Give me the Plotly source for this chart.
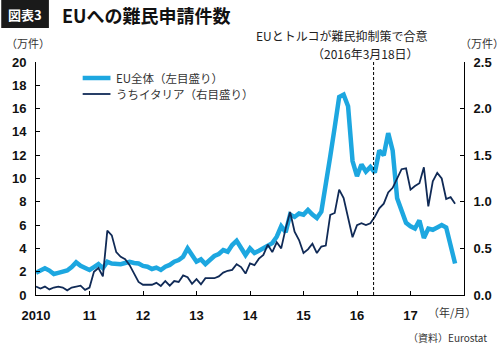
import plotly.graph_objects as go

# ---------------- data (万件, monthly from 2010-01) ----------------
start_year = 2010
eu_total = [
    1.9, 2.1, 2.3, 2.1, 1.8, 1.9, 2.0, 2.1, 2.4, 2.8, 2.5, 2.3,          # 2010
    2.15, 2.4, 2.65, 2.3, 2.85, 2.7, 2.65, 2.65, 2.75, 2.85, 2.75, 2.7,  # 2011
    2.5, 2.43, 2.23, 2.35, 2.15, 2.43, 2.58, 2.86, 3.0, 3.29, 4.0, 3.43, # 2012
    2.86, 3.06, 2.66, 3.0, 3.35, 3.52, 3.86, 3.72, 4.29, 4.66, 4.0, 3.43,# 2013
    4.0, 3.6, 3.8, 4.0, 4.3, 4.45, 5.0, 5.9, 5.4, 6.9, 6.7, 7.0,         # 2014
    6.9, 7.3, 6.9, 6.6, 7.15, 9.3, 11.9, 14.4, 17.0, 17.2, 16.2, 11.5,   # 2015
    10.2, 11.2, 10.6, 11.0, 10.5, 12.4, 12.0, 13.9, 12.4, 8.3, 7.3, 6.2, # 2016
    5.9, 5.7, 6.4, 4.9, 5.7, 5.6, 5.8, 6.0, 5.8, 4.4, 2.7,               # 2017
]
italy = [
    0.09, 0.07, 0.09, 0.06, 0.08, 0.09, 0.08, 0.05, 0.08, 0.09, 0.10, 0.055,
    0.08, 0.25, 0.29, 0.20, 0.69, 0.64, 0.46, 0.41, 0.385, 0.32, 0.23, 0.14,
    0.11, 0.107, 0.11, 0.13, 0.097, 0.15, 0.10, 0.15, 0.14, 0.21, 0.19, 0.12,
    0.17, 0.115, 0.18, 0.18, 0.18, 0.20, 0.24, 0.26, 0.27, 0.33, 0.30, 0.23,
    0.34, 0.32, 0.39, 0.43, 0.54, 0.46, 0.565, 0.50, 0.715, 0.89, 0.68, 0.59,
    0.45, 0.49, 0.55, 0.45, 0.52, 0.53, 0.86, 0.88, 1.13, 1.04, 0.82, 0.62,
    0.75, 0.77, 0.75, 0.77, 0.84, 0.93, 0.98, 1.10, 1.15, 1.25, 1.35, 1.36,
    1.13, 1.17, 1.20, 1.37, 0.95, 1.22, 1.31, 1.25, 1.03, 1.05, 0.98,
]
series_names = ["EU全体（左目盛り）", "うちイタリア（右目盛り）"]
year_ticks = [2010, 2011, 2012, 2013, 2014, 2015, 2016, 2017]
year_labels = ["2010", "11", "12", "13", "14", "15", "16", "17"]
left_ticks = [0, 2, 4, 6, 8, 10, 12, 14, 16, 18, 20]
right_ticks = [0.0, 0.5, 1.0, 1.5, 2.0, 2.5]
event_x = 2016.31   # EU–Turkey statement (2016-03-18), as drawn

x_eu = [start_year + i / 12 for i in range(len(eu_total))]
x_it = [start_year + i / 12 for i in range(len(italy))]

EU_COLOR = "#1DA7E0"
IT_COLOR = "#102A56"
NUM_FONT = "Liberation Sans, Arial, sans-serif"
JP_FONT = "Noto Sans CJK JP, sans-serif"

W, H = 504, 352
L, R, T, B = 35, 466, 62, 295


def px(xp):
    return (xp - L) / (R - L)


def py(yp):
    return (B - yp) / (B - T)


fig = go.Figure()
fig.add_trace(go.Scatter(x=x_eu, y=eu_total, mode="lines", name=series_names[0],
                         line=dict(color=EU_COLOR, width=4.5), yaxis="y", showlegend=False))
fig.add_trace(go.Scatter(x=x_it, y=italy, mode="lines", name=series_names[1],
                         line=dict(color=IT_COLOR, width=1.8), yaxis="y2", showlegend=False))

LEG_Y = [78, 94]

shapes = [
    dict(type="line", xref="x", yref="paper", x0=event_x, x1=event_x, y0=0, y1=1,
         line=dict(color="#000", width=1, dash="3px,2px")),
    dict(type="rect", xref="paper", yref="paper", x0=px(0), x1=px(48), y0=py(28), y1=py(0),
         fillcolor="#1a1a1a", line=dict(width=0), layer="above"),
    dict(type="line", xref="paper", yref="paper", x0=px(82), x1=px(110), y0=py(LEG_Y[0]),
         y1=py(LEG_Y[0]), line=dict(color=EU_COLOR, width=4.5)),
    dict(type="line", xref="paper", yref="paper", x0=px(82), x1=px(110), y0=py(LEG_Y[1]),
         y1=py(LEG_Y[1]), line=dict(color=IT_COLOR, width=1.8)),
]

annotations = [
    dict(text="<b>図表3</b>", x=px(24), y=py(14), xref="paper", yref="paper",
         showarrow=False, font=dict(family=JP_FONT, size=13, color="white"),
         xanchor="center", yanchor="middle"),
    dict(text="<b>EUへの難民申請件数</b>", x=px(59), y=py(15), xref="paper", yref="paper",
         showarrow=False, font=dict(family=JP_FONT, size=18, color="#111"),
         xanchor="left", yanchor="middle"),
    dict(text="（万件）", x=px(3), y=py(43), xref="paper", yref="paper", showarrow=False,
         font=dict(family=JP_FONT, size=11, color="#333"), xanchor="left", yanchor="middle"),
    dict(text="（万件）", x=px(460), y=py(43), xref="paper", yref="paper", showarrow=False,
         font=dict(family=JP_FONT, size=11, color="#333"), xanchor="left", yanchor="middle"),
    dict(text="EUとトルコが難民抑制策で合意", x=px(343), y=py(35), xref="paper", yref="paper",
         showarrow=False, font=dict(family=JP_FONT, size=12, color="#222"),
         xanchor="center", yanchor="middle"),
    dict(text="（2016年3月18日）", x=px(367), y=py(53), xref="paper", yref="paper",
         showarrow=False, font=dict(family=JP_FONT, size=12, color="#222"),
         xanchor="center", yanchor="middle"),
    dict(text=series_names[0], x=px(114), y=py(LEG_Y[0]), xref="paper", yref="paper",
         showarrow=False, font=dict(family=JP_FONT, size=11.5, color="#333"),
         xanchor="left", yanchor="middle"),
    dict(text=series_names[1], x=px(114), y=py(LEG_Y[1]), xref="paper", yref="paper",
         showarrow=False, font=dict(family=JP_FONT, size=11.5, color="#333"),
         xanchor="left", yanchor="middle"),
    dict(text="（年/月）", x=px(428), y=py(312), xref="paper", yref="paper", showarrow=False,
         font=dict(family=JP_FONT, size=11, color="#333"), xanchor="left", yanchor="middle"),
    dict(text="（資料）Eurostat", x=px(491), y=py(337), xref="paper", yref="paper",
         showarrow=False, font=dict(family=JP_FONT, size=10, color="#333"),
         xanchor="right", yanchor="middle"),
]

fig.update_layout(
    width=W, height=H,
    margin=dict(l=L, r=W - R, t=T, b=H - B, pad=0),
    paper_bgcolor="white", plot_bgcolor="white",
    showlegend=False,
    xaxis=dict(range=[2010, 2018], tickvals=year_ticks, ticktext=year_labels,
               showgrid=False, zeroline=False, showline=True, linecolor="#000", linewidth=1,
               ticks="inside", ticklen=4, tickcolor="#000",
               tickfont=dict(family=NUM_FONT, size=13, color="#111", weight="bold"),
               ticklabelstandoff=8),
    yaxis=dict(range=[0, 20], tickvals=left_ticks, showgrid=False, zeroline=False,
               showline=True, linecolor="#000", linewidth=1, ticks="inside", ticklen=4,
               tickcolor="#000", tickfont=dict(family=NUM_FONT, size=13, color="#111", weight="bold"),
               ticklabelstandoff=6),
    yaxis2=dict(range=[0, 2.5], tickvals=right_ticks, tickformat=".1f", overlaying="y",
                side="right", showgrid=False, zeroline=False, showline=True, linecolor="#000",
                linewidth=1, ticks="inside", ticklen=4, tickcolor="#000",
                tickfont=dict(family=NUM_FONT, size=13, color="#111", weight="bold"),
                ticklabelstandoff=6),
    shapes=shapes,
    annotations=annotations,
)

fig.write_html("out.html")
